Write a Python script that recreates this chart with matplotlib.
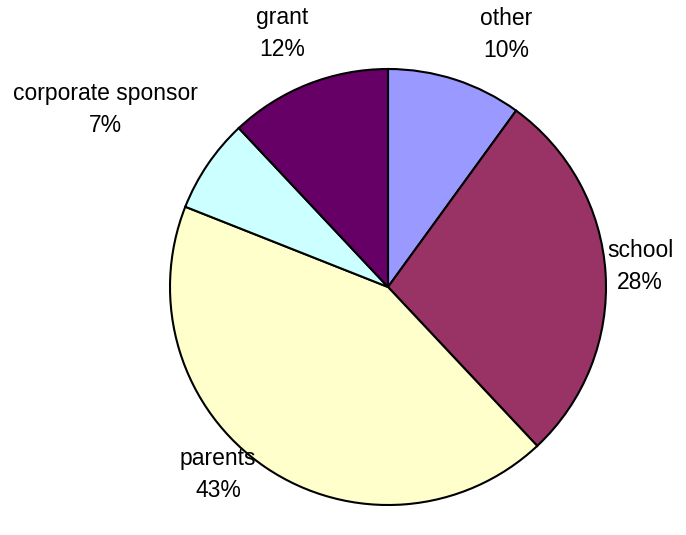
import matplotlib.pyplot as plt
import numpy as np

plt.rcParams['font.family'] = ['Liberation Sans', 'DejaVu Sans']

# funding sources, clockwise from 12 o'clock
sources = ['other', 'school', 'parents', 'corporate sponsor', 'grant']
shares = [10, 28, 43, 7, 12]
colors = ['#9999FF', '#993366', '#FFFFCC', '#CCFFFF', '#660066']

# label distance (in radii) and small angle nudges for each slice label
label_dist = [1.28, 1.16, 1.16, 1.53, 1.26]
label_nudge = [-7, 1, -8, 2, 1]

fig = plt.figure(figsize=(6.86, 5.35), dpi=100)
r_px = 218
cx, cy = 388, 535 - 287
ax = fig.add_axes([(cx - r_px) / 686, (cy - r_px) / 535, 2 * r_px / 686, 2 * r_px / 535])

wedges, _ = ax.pie(shares, colors=colors, startangle=90, counterclock=False,
                   wedgeprops=dict(edgecolor='black', linewidth=1.5))

for w, name, val, d, nudge in zip(wedges, sources, shares, label_dist, label_nudge):
    ang = np.deg2rad((w.theta1 + w.theta2) / 2 + nudge)
    ax.text(d * np.cos(ang), d * np.sin(ang), f'{name}\n{val}%',
            ha='center', va='center', fontsize=16.5, linespacing=1.5)

ax.set_xlim(-1, 1)
ax.set_ylim(-1, 1)
ax.set_aspect('equal')
ax.axis('off')

plt.savefig('out.png')
plt.close()
